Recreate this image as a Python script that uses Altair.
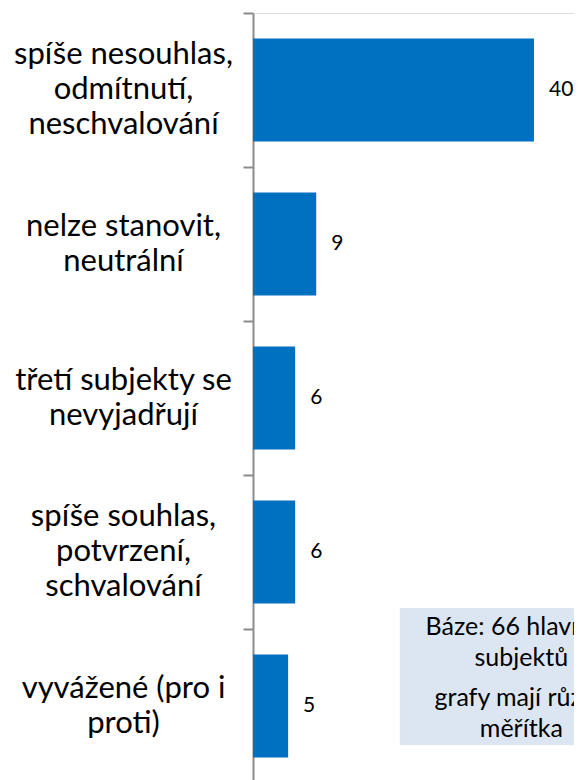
import altair as alt
import pandas as pd

categories = [
    "spíše nesouhlas,|odmítnutí,|neschvalování",
    "nelze stanovit,|neutrální",
    "třetí subjekty se\u00a0|nevyjadřují",
    "spíše souhlas,|potvrzení,|schvalování",
    "vyvážené (pro i|proti)",
]
values = [40, 9, 6, 6, 5]

note_lines_1 = "Báze: 66 hlavních|subjektů"
note_lines_2 = "grafy mají různá|měřítka"
note_x_range = [20.9, 55.5]

FONT = "Lato"
BAR = "#0070C0"
AXIS = "#8C8C8C"

df = pd.DataFrame({"cat": categories, "val": values})

xscale = alt.Scale(domain=[0, 45.7], nice=False, zero=True)
yscale = alt.Scale(domain=categories, paddingInner=0, paddingOuter=0)

base = alt.Chart(df)

bars = base.mark_bar(color=BAR, height=alt.RelativeBandSize(band=0.67)).encode(
    x=alt.X("val:Q", scale=xscale, axis=None),
    y=alt.Y(
        "cat:N",
        scale=yscale,
        sort=categories,
        title=None,
        axis=alt.Axis(
            orient="left",
            bandPosition=0,
            domainColor=AXIS,
            domainWidth=2,
            tickColor=AXIS,
            tickWidth=2,
            tickSize=10,
            labelExpr="split(datum.label, '|')",
            labelAlign="center",
            labelBaseline="middle",
            labelPadding=120,
            labelLineHeight=35,
            labelFont=FONT,
            labelFontSize=31,
            labelColor="#000000",
            labelLimit=500,
            labelOverlap=False,
            labelBound=False,
            labelOffset={
                "condition": {
                    "test": "length(split(datum.value, '|')) == 3",
                    "value": -35,
                },
                "value": -17.5,
            },
        ),
    ),
)

labels = base.mark_text(
    align="left", baseline="middle", dx=15, font=FONT, fontSize=21, color="#000000"
).encode(
    x=alt.X("val:Q", scale=xscale, axis=None),
    y=alt.Y("cat:N", scale=yscale, sort=categories),
    text="val:Q",
)

note_df = pd.DataFrame({"x": [note_x_range[0]], "x2": [note_x_range[1]]})
box = alt.Chart(note_df).mark_rect(color="#DCE6F2", clip=True).encode(
    x=alt.X("x:Q", scale=xscale, axis=None),
    x2="x2:Q",
    y=alt.value(595),
    y2=alt.value(732),
)

center = sum(note_x_range) / 2
t_df = pd.DataFrame({"x": [center], "t1": [note_lines_1], "t2": [note_lines_2]})
txt1 = alt.Chart(t_df).mark_text(
    align="center", baseline="middle", lineBreak="|", lineHeight=31,
    font=FONT, fontSize=25, color="#000000", clip=True
).encode(x=alt.X("x:Q", scale=xscale, axis=None), y=alt.value(614), text="t1:N")
txt2 = alt.Chart(t_df).mark_text(
    align="center", baseline="middle", lineBreak="|", lineHeight=31,
    font=FONT, fontSize=25, color="#000000", clip=True
).encode(x=alt.X("x:Q", scale=xscale, axis=None), y=alt.value(685), text="t2:N")

chart = (
    alt.layer(bars, labels, box, txt1, txt2)
    .properties(
        width=321,
        height=770,
        autosize=alt.AutoSizeParams(type="none"),
        padding={"left": 245, "top": 5, "right": 0, "bottom": 0},
    )
    .configure_view(stroke=None)
    .configure(background="white")
)

chart.save("out.html", embed_options={"renderer": "svg", "actions": False})
